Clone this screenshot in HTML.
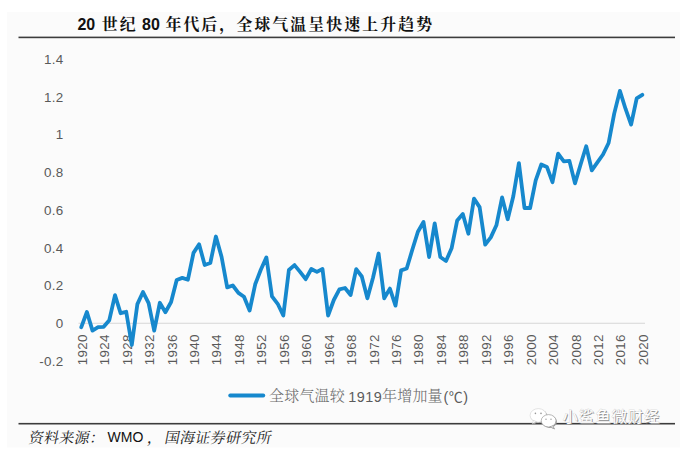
<!DOCTYPE html>
<html lang="zh"><head><meta charset="utf-8"><title>chart</title>
<style>
html,body{margin:0;padding:0;background:#fff;}
body{width:686px;height:454px;overflow:hidden;position:relative;}
svg{position:absolute;left:0;top:0;display:block}
.ax{font-family:"Liberation Sans",sans-serif;font-size:13.4px;fill:#595959;letter-spacing:.3px}
.ttl{font-family:"Liberation Serif","Noto Serif CJK SC",serif;font-weight:700;font-size:15.9px;fill:#111;letter-spacing:2.1px}
.tn{font-family:"Liberation Sans",sans-serif;font-weight:700;font-size:16px;fill:#111}
.ft{font-family:"Liberation Serif","Noto Serif CJK SC",serif;font-size:15px;fill:#222;letter-spacing:.3px}
.fn{font-family:"Liberation Sans",sans-serif;font-size:14px;fill:#111}
.lg{font-family:"Liberation Serif","Noto Serif CJK SC",serif;font-size:15px;fill:#6a6a6a;letter-spacing:.2px;font-weight:300}
.ln{font-family:"Liberation Sans",sans-serif;font-size:14.4px;fill:#5c5c5c;letter-spacing:.5px}
.wm{font-family:"Liberation Sans","Noto Sans CJK SC",sans-serif;font-size:15px;letter-spacing:1.3px}
</style></head><body>
<svg width="686" height="454" viewBox="0 0 686 454">
<rect x="0" y="0" width="686" height="454" fill="#fff"/>
<rect x="7" y="12" width="673" height="435.5" fill="#fbfbfb"/>
<rect x="18.5" y="36.6" width="656.5" height="1.6" fill="#3c3c3c"/>
<rect x="18.5" y="422.9" width="656.5" height="1.6" fill="#3c3c3c"/>
<text class="tn" x="77.4" y="29.9">20</text>
<text class="ttl" x="101.8" y="30">世纪</text>
<text class="tn" x="142" y="29.9">80</text>
<text class="ttl" x="165.4" y="30">年代后，</text>
<text class="ttl" x="236.4" y="30">全球气温呈快速上升趋势</text>
<g class="ax"><text x="63.6" y="64.0" text-anchor="end">1.4</text><text x="63.6" y="101.7" text-anchor="end">1.2</text><text x="63.6" y="139.4" text-anchor="end">1</text><text x="63.6" y="177.1" text-anchor="end">0.8</text><text x="63.6" y="214.9" text-anchor="end">0.6</text><text x="63.6" y="252.6" text-anchor="end">0.4</text><text x="63.6" y="290.3" text-anchor="end">0.2</text><text x="63.6" y="328.0" text-anchor="end">0</text><text x="63.6" y="365.7" text-anchor="end">-0.2</text></g>
<rect x="78.5" y="322.7" width="566.5" height="1.2" fill="#dcdcdc"/>
<g class="ax"><text transform="translate(86.8,365.2) rotate(-90)">1920</text><text transform="translate(109.2,365.2) rotate(-90)">1924</text><text transform="translate(131.7,365.2) rotate(-90)">1928</text><text transform="translate(154.1,365.2) rotate(-90)">1932</text><text transform="translate(176.6,365.2) rotate(-90)">1936</text><text transform="translate(199.0,365.2) rotate(-90)">1940</text><text transform="translate(221.4,365.2) rotate(-90)">1944</text><text transform="translate(243.9,365.2) rotate(-90)">1948</text><text transform="translate(266.3,365.2) rotate(-90)">1952</text><text transform="translate(288.8,365.2) rotate(-90)">1956</text><text transform="translate(311.2,365.2) rotate(-90)">1960</text><text transform="translate(333.6,365.2) rotate(-90)">1964</text><text transform="translate(356.1,365.2) rotate(-90)">1968</text><text transform="translate(378.5,365.2) rotate(-90)">1972</text><text transform="translate(401.0,365.2) rotate(-90)">1976</text><text transform="translate(423.4,365.2) rotate(-90)">1980</text><text transform="translate(445.8,365.2) rotate(-90)">1984</text><text transform="translate(468.3,365.2) rotate(-90)">1988</text><text transform="translate(490.7,365.2) rotate(-90)">1992</text><text transform="translate(513.2,365.2) rotate(-90)">1996</text><text transform="translate(535.6,365.2) rotate(-90)">2000</text><text transform="translate(558.0,365.2) rotate(-90)">2004</text><text transform="translate(580.5,365.2) rotate(-90)">2008</text><text transform="translate(602.9,365.2) rotate(-90)">2012</text><text transform="translate(625.4,365.2) rotate(-90)">2016</text><text transform="translate(647.8,365.2) rotate(-90)">2020</text></g>
<polyline fill="none" stroke="#1688cd" stroke-width="3.8" stroke-linejoin="round" stroke-linecap="round" points="81.3,327.2 86.9,312.0 92.5,330.6 98.1,327.2 103.7,326.8 109.3,320.2 115.0,295.1 120.6,313.2 126.2,311.8 131.8,345.0 137.4,304.1 143.0,292.0 148.6,303.2 154.2,330.6 159.8,302.8 165.4,312.2 171.1,302.0 176.7,280.0 182.3,277.9 187.9,279.7 193.5,252.9 199.1,244.3 204.7,265.0 210.3,263.0 215.9,236.5 221.6,257.0 227.2,287.4 232.8,285.5 238.4,292.9 244.0,296.8 249.6,310.5 255.2,284.3 260.8,269.8 266.4,257.4 272.0,296.4 277.7,303.8 283.3,315.5 288.9,270.0 294.5,265.1 300.1,271.9 305.7,279.2 311.3,269.0 316.9,271.9 322.5,269.0 328.1,315.5 333.8,300.0 339.4,289.3 345.0,288.0 350.6,295.0 356.2,269.1 361.8,276.5 367.4,298.3 373.0,277.7 378.6,253.5 384.2,298.3 389.9,288.6 395.5,305.6 401.1,270.4 406.7,268.5 412.3,249.8 417.9,231.7 423.5,222.0 429.1,257.0 434.7,223.4 440.3,257.0 446.0,261.0 451.6,248.3 457.2,220.4 462.8,213.9 468.4,233.7 474.0,198.6 479.6,207.1 485.2,244.7 490.8,237.4 496.4,225.3 502.1,197.4 507.7,219.2 513.3,196.2 518.9,163.1 524.5,208.0 530.1,208.0 535.7,180.3 541.3,164.5 546.9,166.9 552.5,182.2 558.1,153.6 563.8,161.4 569.4,160.9 575.0,183.4 580.6,164.5 586.2,146.3 591.8,170.3 597.4,162.3 603.0,154.5 608.6,143.0 614.2,113.6 619.9,90.9 625.5,108.7 631.1,124.6 636.7,98.4 642.3,94.8"/>
<line x1="230.2" y1="395.5" x2="263.3" y2="395.5" stroke="#1688cd" stroke-width="3.8" stroke-linecap="round"/>
<text class="lg" x="269" y="401">全球气温较</text>
<text class="ln" x="348.3" y="402.2">1919</text>
<text class="lg" x="382" y="401">年增加量</text>
<text class="ln" x="443.4" y="402.2">(<tspan style="font-family:'Noto Sans CJK SC',sans-serif;font-size:14px">℃</tspan>)</text>
<text class="ft" transform="translate(27.9,443.2) skewX(-11)">资料来源：</text>
<text class="fn" x="107.6" y="442.4">WMO</text>
<text class="ft" transform="translate(146.8,443.2) skewX(-11)">，</text>
<text class="ft" transform="translate(164,443.2) skewX(-11)">国海证券研究所</text>
<g transform="translate(0,0.8)">
<g fill="#9a9a9a" transform="translate(0.9,0.9)">
<ellipse cx="538.3" cy="414.6" rx="8.2" ry="6.8"/>
<path d="M533.5 419.6 L532.2 423 L536.5 420.9 Z"/>
<ellipse cx="548.6" cy="420" rx="7.4" ry="6.2"/>
<path d="M552.6 425 L554.3 427.8 L550 426 Z"/>
</g>
<g fill="#fff" stroke="#c8c8c8" stroke-width=".5">
<ellipse cx="538.3" cy="414.6" rx="8.2" ry="6.8"/>
<path d="M533.5 419.6 L532.2 423 L536.5 420.9 Z" stroke-linejoin="round"/>
</g>
<g fill="#fff" stroke="#9a9a9a" stroke-width=".7">
<ellipse cx="548.6" cy="420" rx="7.4" ry="6.2"/>
<path d="M552.6 425 L554.3 427.8 L550 426 Z" stroke-linejoin="round"/>
</g>
<g fill="#999"><circle cx="535.4" cy="412.6" r=".8"/><circle cx="541" cy="412.6" r=".8"/><circle cx="546" cy="418.4" r=".7"/><circle cx="551" cy="418.4" r=".7"/></g>
</g>
<text class="wm" x="563.8" y="423.4" fill="#8c8c8c">小鲨鱼微财经</text>
<text class="wm" x="562.8" y="422.4" fill="#fff" stroke="#c4c4c4" stroke-width=".5" paint-order="stroke">小鲨鱼微财经</text>
</svg>
</body></html>
